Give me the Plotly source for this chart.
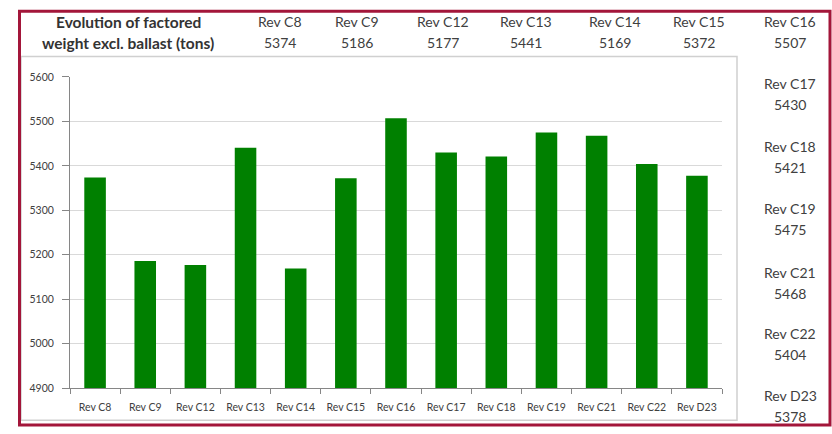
import plotly.graph_objects as go

categories = ["Rev C8", "Rev C9", "Rev C12", "Rev C13", "Rev C14", "Rev C15", "Rev C16",
              "Rev C17", "Rev C18", "Rev C19", "Rev C21", "Rev C22", "Rev D23"]
weights = [5374, 5186, 5177, 5441, 5169, 5372, 5507, 5430, 5421, 5475, 5468, 5404, 5378]
y_ticks = [4900, 5000, 5100, 5200, 5300, 5400, 5500, 5600]
title_lines = ["Evolution of factored", "weight excl. ballast (tons)"]

W, H = 832, 434
FONT = "Lato, 'Open Sans', sans-serif"
TXT = "#404040"

def px(x):
    return x / W

def py(y):
    return 1 - y / H

fig = go.Figure()
fig.add_trace(go.Bar(x=categories, y=weights, marker=dict(color="#008000", line=dict(width=0)),
                     width=0.43, hoverinfo="x+y"))

annotations = []
# title in header
for i, line in enumerate(title_lines):
    annotations.append(dict(x=px(128), y=py(16 + 22 * i), xref="paper", yref="paper", text="<b>%s</b>" % line,
                            showarrow=False, font=dict(family=FONT, size=15.5, color="#333333"),
                            xanchor="center", yanchor="middle"))
# header labels (first 7)
header_x = [280, 357, 443, 526, 615, 699, 790]
for cx, cat, val in zip(header_x, categories[:7], weights[:7]):
    annotations.append(dict(x=px(cx), y=py(16), xref="paper", yref="paper", text=cat, showarrow=False,
                            font=dict(family=FONT, size=14, color=TXT), xanchor="center", yanchor="middle"))
    annotations.append(dict(x=px(cx), y=py(38), xref="paper", yref="paper", text=str(val), showarrow=False,
                            font=dict(family=FONT, size=14, color=TXT), xanchor="center", yanchor="middle"))
# right column labels
right_y = [80, 145, 208, 274, 337, 401]
for cy, cat, val in zip(right_y, categories[7:], weights[7:]):
    annotations.append(dict(x=px(790), y=py(cy), xref="paper", yref="paper", text=cat, showarrow=False,
                            font=dict(family=FONT, size=14, color=TXT), xanchor="center", yanchor="middle"))
    annotations.append(dict(x=px(790), y=py(cy + 21.5), xref="paper", yref="paper", text=str(val), showarrow=False,
                            font=dict(family=FONT, size=14, color=TXT), xanchor="center", yanchor="middle"))

shapes = [
    # inner chart frame
    dict(type="rect", xref="paper", yref="paper", x0=px(21), x1=px(737), y0=py(426), y1=py(52),
         line=dict(color="#d0d0d0", width=1.5), fillcolor="rgba(0,0,0,0)", layer="below"),
    # outer red border
    dict(type="rect", xref="paper", yref="paper", x0=px(19.5), x1=px(830), y0=py(431), y1=py(5.5),
         line=dict(color="#A3163A", width=3), fillcolor="rgba(0,0,0,0)"),
]

fig.update_layout(
    width=W, height=H,
    margin=dict(l=0, r=0, t=0, b=0),
    paper_bgcolor="white", plot_bgcolor="white",
    showlegend=False,
    annotations=annotations,
    shapes=shapes,
    xaxis=dict(domain=[px(70), px(722)], showgrid=False, showline=True, linecolor="#868686", linewidth=1,
               ticks="outside", tickson="boundaries", ticklen=5, tickcolor="#868686",
               ticklabelstandoff=9,
               tickfont=dict(family=FONT, size=10.5, color=TXT), fixedrange=True),
    yaxis=dict(domain=[py(393), py(73)], range=[4900, 5600], tickvals=y_ticks,
               showgrid=True, gridcolor="#d9d9d9", gridwidth=1,
               showline=True, linecolor="#868686", linewidth=1,
               ticks="outside", ticklen=7, tickcolor="#868686", ticklabelstandoff=6,
               tickfont=dict(family=FONT, size=10.5, color=TXT), zeroline=False, fixedrange=True),
    font=dict(family=FONT),
)

fig.write_html("out.html")
